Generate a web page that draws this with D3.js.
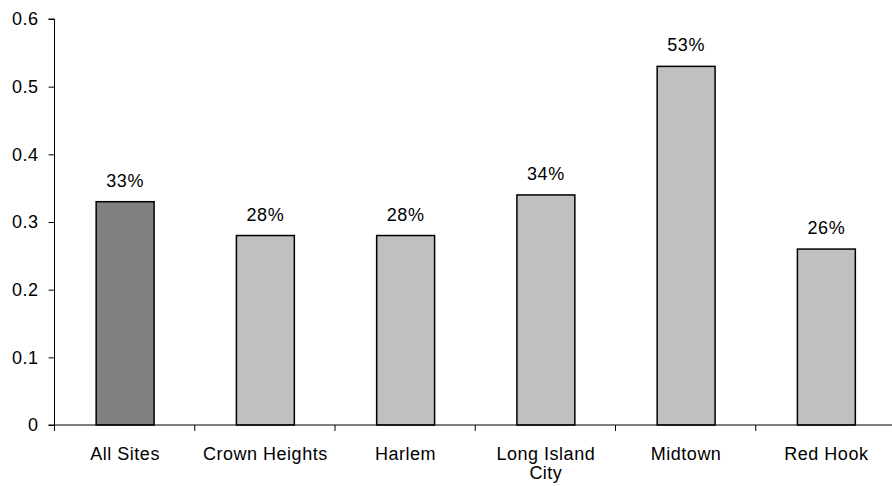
<!DOCTYPE html>
<html><head><meta charset="utf-8">
<script src="https://cdn.jsdelivr.net/npm/d3@7"></script>
<style>
body{margin:0;background:#fff;}
text{font-family:"Liberation Sans",Arial,sans-serif;fill:#000;letter-spacing:0.5px;}
</style></head>
<body><svg id="c" width="892" height="486"></svg>
<script>
const categories = ["All Sites","Crown Heights","Harlem","Long Island City","Midtown","Red Hook"];
const values = [0.33,0.28,0.28,0.34,0.53,0.26];
const valueLabels = ["33%","28%","28%","34%","53%","26%"];
const barColors = ["#808080","#c0c0c0","#c0c0c0","#c0c0c0","#c0c0c0","#c0c0c0"];
const yTicks = [0,0.1,0.2,0.3,0.4,0.5,0.6];

const svg = d3.select("#c");
const FS = 18;
const x0 = 54.5, x1 = 896, yTop = 19, yBot = 425;
const x = d3.scaleBand().domain(categories).range([x0,x1]).padding(0);
const y = d3.scaleLinear().domain([0,0.6]).range([yBot,yTop]);
const bw = x.bandwidth()*0.413;

// bars
svg.selectAll("rect.bar").data(categories).enter().append("rect")
  .attr("x",(d)=>x(d)+x.bandwidth()/2-bw/2+0.5)
  .attr("y",(d,i)=>y(values[i]))
  .attr("width",bw)
  .attr("height",(d,i)=>yBot-y(values[i]))
  .attr("fill",(d,i)=>barColors[i])
  .attr("stroke","#000").attr("stroke-width",1.5);

// value labels
svg.selectAll("text.val").data(categories).enter().append("text")
  .attr("x",(d)=>x(d)+x.bandwidth()/2+0.5)
  .attr("y",(d,i)=>y(values[i])-15)
  .attr("text-anchor","middle").attr("font-size",FS)
  .text((d,i)=>valueLabels[i]);

// y axis
const ya = svg.append("g").attr("transform",`translate(${x0},0)`)
  .call(d3.axisLeft(y).tickValues(yTicks).tickSize(6).tickPadding(10)
    .tickFormat(d=>d===0?"0":d3.format(".1f")(d)));
ya.selectAll("text").attr("font-size",FS).style("font-family",'"Liberation Sans",Arial,sans-serif');
ya.select(".domain").attr("d",`M-6,${yTop}H0V${yBot}`).attr("stroke","#000");
ya.selectAll(".tick line").attr("stroke","#000");

// x axis
const xa = svg.append("g").attr("transform",`translate(0,${yBot})`);
xa.append("line").attr("x1",x0-6).attr("x2",x1).attr("y1",0).attr("y2",0).attr("stroke","#000");
const bounds = categories.map(d=>x(d));
xa.selectAll("line.tk").data(bounds).enter().append("line")
  .attr("x1",d=>d).attr("x2",d=>d).attr("y1",0).attr("y2",6).attr("stroke","#000");

const wrapped = {"Long Island City":["Long Island","City"]};
categories.forEach(c=>{
  const lines = wrapped[c] || [c];
  const t = xa.append("text").attr("text-anchor","middle").attr("font-size",FS)
    .attr("x",x(c)+x.bandwidth()/2+0.5).attr("y",35);
  lines.forEach((l,i)=>t.append("tspan").attr("x",x(c)+x.bandwidth()/2+0.5).attr("dy",i?19:0).text(l));
});
</script></body></html>
